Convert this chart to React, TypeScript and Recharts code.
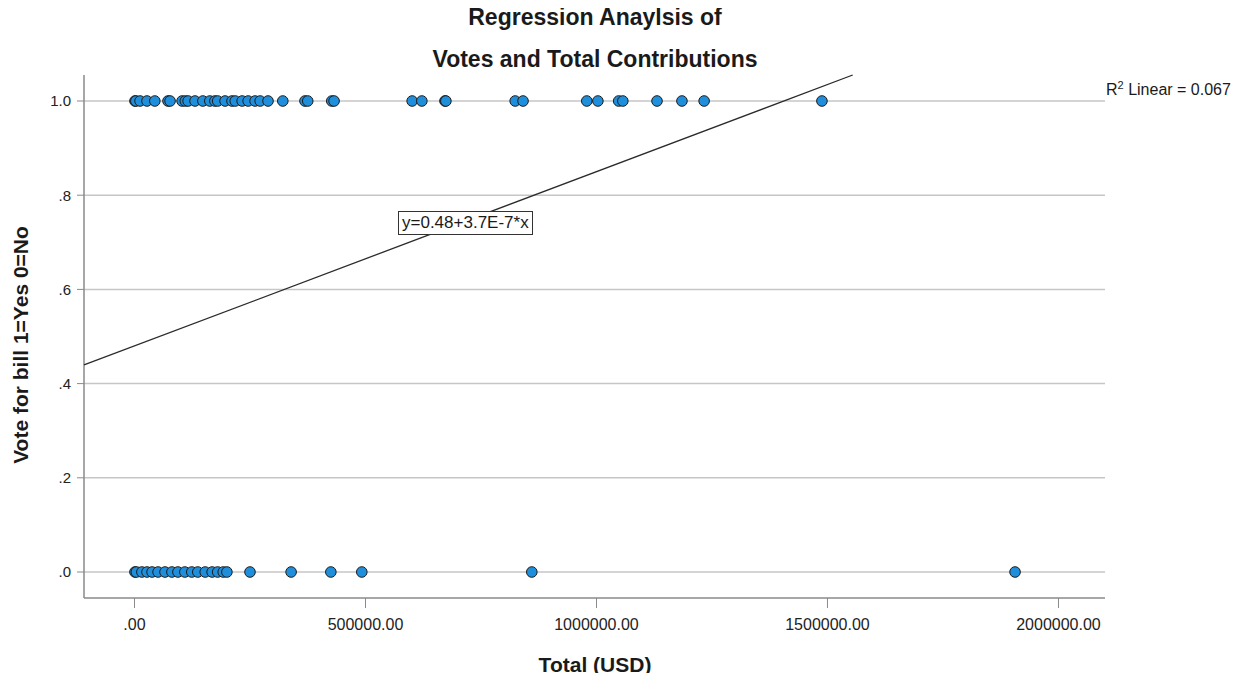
import {
  ScatterChart,
  Scatter,
  XAxis,
  YAxis,
  ReferenceLine,
} from 'recharts'

// Total contributions (USD) of members who voted yes (1) and no (0)
const yesTotals = [
  1000, 3000, 12000, 27000, 44000, 72500, 77000, 103000, 110000, 116000, 131000,
  148000, 163000, 174000, 180000, 196000, 211000, 218000, 233000, 246000, 261000,
  272000, 289000, 321000, 369000, 375000, 427000, 432000, 601000, 622000, 672000,
  674000, 824000, 841000, 979000, 1003000, 1048000, 1057000, 1131000, 1185000,
  1233000, 1488000,
]
const noTotals = [
  1000, 4000, 16000, 27000, 38000, 51000, 66000, 81000, 94000, 109000, 124000,
  137000, 153000, 168000, 180000, 192000, 200000, 250000, 339000, 425000, 492000,
  860000, 1906000,
]

const xTicks = [0, 500000, 1000000, 1500000, 2000000]
const yTicks = [0, 0.2, 0.4, 0.6, 0.8, 1.0]

// fit line reported by SPSS
const intercept = 0.48
const slope = 3.7e-7
const rSquared = 0.067

const xDomain: [number, number] = [-109300, 2100700]
const yDomain: [number, number] = [-0.0552, 1.0552]

const FONT = '"Liberation Sans", Arial, sans-serif'
const AXIS = '#8a8a8a'

const fmtX = (v: number) => (v === 0 ? '.00' : v.toFixed(2))
const fmtY = (v: number) => {
  const s = v.toFixed(1)
  return s.startsWith('0') ? s.slice(1) : s
}

function Dot(props: any) {
  const { cx, cy } = props
  if (cx == null || cy == null) return null
  return <circle cx={cx} cy={cy} r={5.3} fill="#1f8fdc" stroke="#1c1c1c" strokeWidth={1} />
}

export default function App() {
  const yesData = yesTotals.map((x) => ({ x, y: 1 }))
  const noData = noTotals.map((x) => ({ x, y: 0 }))

  // line runs from left edge of plot until it leaves the top
  const x0 = xDomain[0]
  const x1 = (yDomain[1] - intercept) / slope
  const seg = [
    { x: x0, y: intercept + slope * x0 },
    { x: x1, y: intercept + slope * x1 },
  ]

  return (
    <div
      style={{
        position: 'relative',
        width: 1242,
        height: 681,
        margin: -8,
        background: '#fff',
        fontFamily: FONT,
        color: '#1a1a1a',
      }}
    >
      <ScatterChart width={1242} height={681} margin={{ top: 75, right: 137, bottom: 23, left: 24 }}>
        <XAxis
          type="number"
          dataKey="x"
          domain={xDomain}
          ticks={xTicks}
          tickFormatter={fmtX}
          allowDataOverflow
          height={60}
          tickSize={10}
          tickMargin={11}
          axisLine={false}
          tickLine={{ stroke: AXIS }}
          tick={{ fill: '#222', fontSize: 16, fontFamily: FONT }}
        />
        <YAxis
          type="number"
          dataKey="y"
          domain={yDomain}
          ticks={yTicks}
          tickFormatter={fmtY}
          allowDataOverflow
          width={60}
          tickSize={7}
          tickMargin={6}
          axisLine={false}
          tickLine={{ stroke: AXIS }}
          tick={{ fill: '#222', fontSize: 15, fontFamily: FONT }}
        />
        {/* horizontal gridlines at the y ticks */}
        {yTicks.map((t) => (
          <ReferenceLine key={t} y={t} stroke="#c6c6c6" strokeWidth={1.5} />
        ))}
        {/* left and bottom axis lines only */}
        <ReferenceLine x={xDomain[0]} stroke={AXIS} strokeWidth={1.5} />
        <ReferenceLine y={yDomain[0]} stroke={AXIS} strokeWidth={1.5} />
        <ReferenceLine segment={seg} stroke="#2a2a2a" strokeWidth={1.3} />
        <Scatter data={noData} shape={<Dot />} isAnimationActive={false} />
        <Scatter data={yesData} shape={<Dot />} isAnimationActive={false} />
      </ScatterChart>

      {/* title */}
      <div style={{ position: 'absolute', left: 595, top: 4, transform: 'translateX(-50%)', fontSize: 23, fontWeight: 'bold', whiteSpace: 'nowrap' }}>
        Regression Anaylsis of
      </div>
      <div style={{ position: 'absolute', left: 595, top: 46, transform: 'translateX(-50%)', fontSize: 23, fontWeight: 'bold', whiteSpace: 'nowrap' }}>
        Votes and Total Contributions
      </div>

      {/* axis titles */}
      <div style={{ position: 'absolute', left: 595, top: 653, transform: 'translateX(-50%)', fontSize: 21, fontWeight: 'bold', whiteSpace: 'nowrap' }}>
        Total (USD)
      </div>
      <div
        style={{
          position: 'absolute',
          left: 21,
          top: 345,
          transform: 'translate(-50%, -50%) rotate(-90deg)',
          fontSize: 21,
          fontWeight: 'bold',
          whiteSpace: 'nowrap',
        }}
      >
        Vote for bill 1=Yes 0=No
      </div>

      {/* equation box */}
      <div
        style={{
          position: 'absolute',
          left: 398,
          top: 211,
          padding: '1px 3px',
          border: '1px solid #333',
          background: '#fff',
          fontSize: 17,
          whiteSpace: 'nowrap',
        }}
      >
        y={intercept}+3.7E-7*x
      </div>

      {/* R squared */}
      <div style={{ position: 'absolute', left: 1106, top: 79, fontSize: 16, whiteSpace: 'nowrap' }}>
        R<sup style={{ fontSize: 11 }}>2</sup> Linear = {rSquared.toFixed(3)}
      </div>
    </div>
  )
}
